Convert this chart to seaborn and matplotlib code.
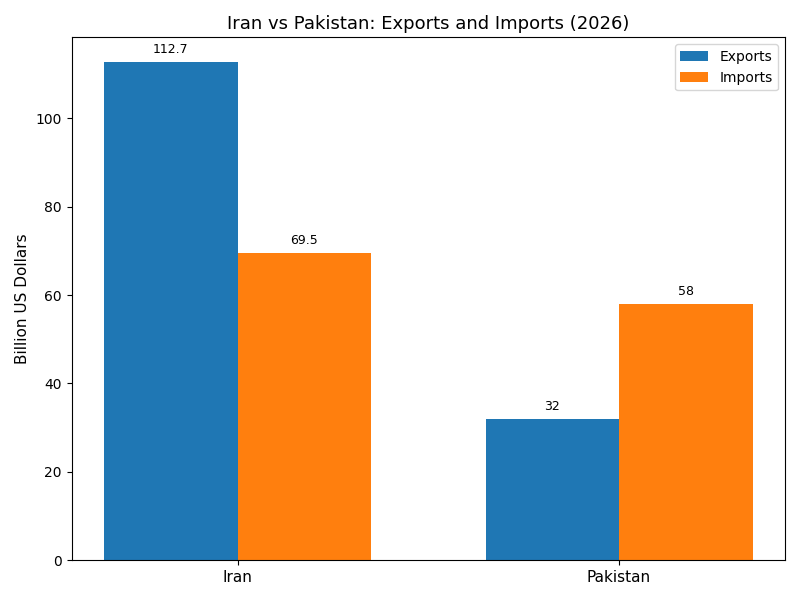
import pandas as pd
import matplotlib
matplotlib.use("Agg")
import matplotlib.pyplot as plt
import seaborn as sns

# data
countries = ["Iran", "Pakistan"]
exports = [112.7, 32]
imports = [69.5, 58]

df = pd.DataFrame({
    "Country": countries * 2,
    "Series": ["Exports"] * len(countries) + ["Imports"] * len(countries),
    "Value": exports + imports,
})

fig, ax = plt.subplots(figsize=(8, 6), dpi=100)
sns.barplot(data=df, x="Country", y="Value", hue="Series", width=0.7,
            palette=["#1f77b4", "#ff7f0e"], saturation=1, ax=ax)

for container in ax.containers:
    ax.bar_label(container, padding=4.5, fontsize=9)

ax.set_xlim(-0.435, 1.435)
ax.set_ylim(0, 118.3)
ax.set_xlabel("")
ax.set_ylabel("Billion US Dollars", fontsize=11)
ax.set_title("Iran vs Pakistan: Exports and Imports (2026)", fontsize=13)
ax.tick_params(axis="x", labelsize=11)
handles, labels = ax.get_legend_handles_labels()
ax.legend(handles, labels, loc="upper right")

plt.tight_layout()
plt.savefig("out.png")
